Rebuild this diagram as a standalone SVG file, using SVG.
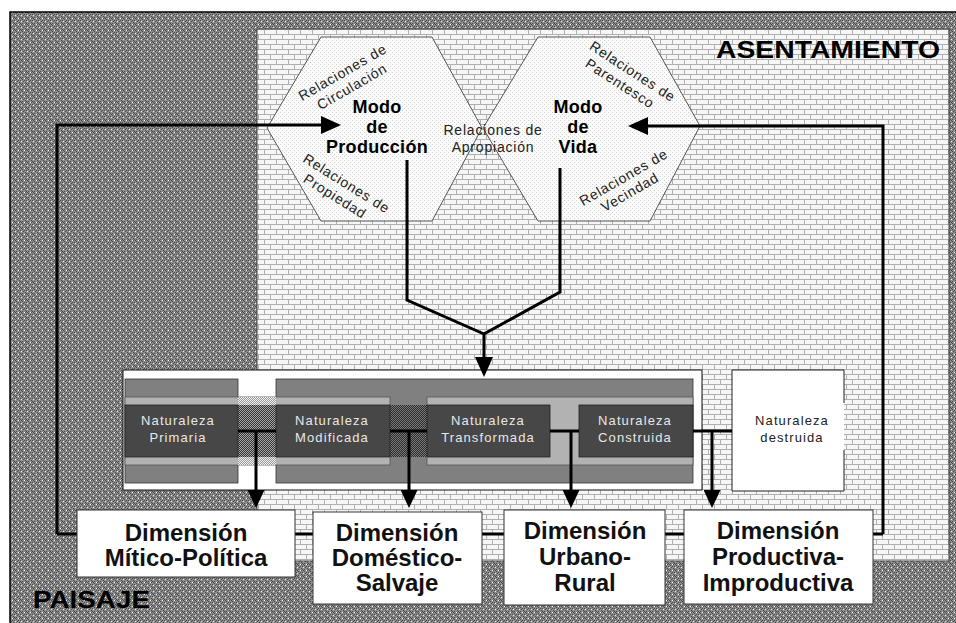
<svg xmlns="http://www.w3.org/2000/svg" width="956" height="623" viewBox="0 0 956 623">
<defs>
<style>
.rel{font-family:"Liberation Sans",Arial,sans-serif;font-size:14px;letter-spacing:0.8px;fill:#222;text-anchor:middle}
.modo{font-family:"Liberation Sans",Arial,sans-serif;font-size:18px;font-weight:bold;letter-spacing:0.3px;fill:#000;text-anchor:middle}
.nat{font-family:"Liberation Sans",Arial,sans-serif;font-size:13px;letter-spacing:1.1px;fill:#e8e8e8;text-anchor:middle}
.natd{font-family:"Liberation Sans",Arial,sans-serif;font-size:13px;letter-spacing:1.1px;fill:#222;text-anchor:middle}
.dim{font-family:"Liberation Sans",Arial,sans-serif;font-size:24px;font-weight:bold;fill:#111;text-anchor:middle}
.big{font-family:"Liberation Sans",Arial,sans-serif;font-size:23px;font-weight:bold;fill:#000}
.box{fill:#fff;stroke:#333;stroke-width:1}
.dk{fill:#474747;stroke:#222;stroke-width:0.8}
.gr{fill:#808080;stroke:#333;stroke-width:0.8}
.band{fill:#b2b2b2;stroke:#555;stroke-width:0.8}
.ln{fill:none;stroke:#000;stroke-width:3;stroke-linejoin:miter}
</style>
<pattern id="pais" width="6" height="6" patternUnits="userSpaceOnUse">
<rect width="6" height="6" fill="#8c8c8c"/>
<path d="M1 0h1v1h-1zM4 1h1v1h-1zM2 2h1v1h-1zM5 3h1v1h-1zM1 4h1v1h-1zM4 5h1v1h-1zM3 0h1v1h-1zM0 2h1v1h-1zM2 5h1v1h-1z" fill="#4a4a4a"/>
<rect x="0" y="0" width="1" height="1" fill="#fff"/>
<rect x="3" y="3" width="1" height="1" fill="#eee"/>
</pattern>
<pattern id="brick" width="12" height="10" patternUnits="userSpaceOnUse">
<rect width="12" height="10" fill="#f6f6f6"/>
<path d="M0 4.5H12M0 9.5H12M0.5 0V4M6.5 5V9" stroke="#b0b0b0" stroke-width="1"/>
</pattern>
<pattern id="hexp" width="4" height="4" patternUnits="userSpaceOnUse">
<rect width="4" height="4" fill="#fbfbfb"/>
<rect width="1" height="1" fill="#d2d2d2"/>
<rect x="2" y="2" width="1" height="1" fill="#d2d2d2"/>
</pattern>
<pattern id="lchk" width="2" height="2" patternUnits="userSpaceOnUse">
<rect width="2" height="2" fill="#f0f0f0"/>
<rect x="1" y="0" width="1" height="1" fill="#9a9a9a"/>
<rect x="0" y="1" width="1" height="1" fill="#9a9a9a"/>
</pattern>
<pattern id="dchk" width="2" height="2" patternUnits="userSpaceOnUse">
<rect width="2" height="2" fill="#a8a8a8"/>
<rect x="1" y="0" width="1" height="1" fill="#333"/>
<rect x="0" y="1" width="1" height="1" fill="#333"/>
</pattern>
<pattern id="dchk2" width="2" height="2" patternUnits="userSpaceOnUse">
<rect width="2" height="2" fill="#777"/>
<rect x="1" y="0" width="1" height="1" fill="#2e2e2e"/>
<rect x="0" y="1" width="1" height="1" fill="#2e2e2e"/>
</pattern>
<marker id="ah" markerUnits="userSpaceOnUse" markerWidth="20" markerHeight="18" refX="16" refY="9" orient="auto">
<path d="M0,0 L20,9 L0,18 z" fill="#000"/>
</marker>
<marker id="ahs" markerUnits="userSpaceOnUse" markerWidth="18" markerHeight="17" refX="14" refY="8.5" orient="auto">
<path d="M0,0 L18,8.5 L0,17 z" fill="#000"/>
</marker>
</defs>

<rect width="956" height="623" fill="#fff"/>

<g id="paisaje">
<rect x="10" y="12" width="946" height="611" fill="url(#pais)"/>
<path d="M10,623 V12 H956" fill="none" stroke="#000" stroke-width="1.5"/>
<text class="big" x="33" y="608" textLength="117" lengthAdjust="spacingAndGlyphs" font-size="22">PAISAJE</text>
</g>

<g id="asentamiento">
<rect x="257" y="29" width="692" height="532" fill="url(#brick)" stroke="#444" stroke-width="1"/>
<text class="big" x="716" y="58" textLength="224" lengthAdjust="spacingAndGlyphs">ASENTAMIENTO</text>
</g>

<g id="modo-produccion">
<polygon points="321,37 432,37 482,128 432,221 321,221 267,128" fill="url(#hexp)" stroke="#555" stroke-width="1"/>
<g transform="translate(345,76.5) rotate(-30)">
<text class="rel" x="0" y="0">Relaciones de</text>
<text class="rel" x="1" y="17">Circulación</text>
</g>
<g transform="translate(344,187.5) rotate(32)">
<text class="rel" x="0" y="0">Relaciones de</text>
<text class="rel" x="-3" y="17">Propiedad</text>
</g>
<text class="modo" x="377" y="113">Modo</text>
<text class="modo" x="377" y="133">de</text>
<text class="modo" x="377" y="153">Producción</text>
</g>

<g id="modo-vida">
<polygon points="538,37 650,37 700,126 650,221 538,221 483,128" fill="url(#hexp)" stroke="#555" stroke-width="1"/>
<g transform="translate(630,75.5) rotate(33)">
<text class="rel" x="0" y="0">Relaciones de</text>
<text class="rel" x="-4" y="17">Parentesco</text>
</g>
<g transform="translate(626,181.5) rotate(-30)">
<text class="rel" x="0" y="0">Relaciones de</text>
<text class="rel" x="-2" y="16">Vecindad</text>
</g>
<text class="modo" x="578" y="113">Modo</text>
<text class="modo" x="578" y="133">de</text>
<text class="modo" x="578" y="153">Vida</text>
</g>

<g id="relaciones-apropiacion">
<text class="rel" x="493" y="135">Relaciones de</text>
<text class="rel" x="493" y="152">Apropiación</text>
</g>

<g id="naturaleza">
<rect x="123" y="370" width="579" height="120" fill="#fff" stroke="#111" stroke-width="1"/>
<rect class="gr" x="125" y="379" width="113" height="104"/>
<rect class="gr" x="276" y="379" width="417" height="104"/>
<rect class="band" x="125" y="397" width="265" height="68"/>
<rect x="238" y="397" width="38" height="68" fill="url(#lchk)"/>
<rect class="band" x="427" y="397" width="266" height="68"/>
<rect x="238" y="405" width="38" height="52" fill="url(#dchk)"/>
<rect x="390" y="405" width="37" height="52" fill="url(#dchk2)"/>
</g>

<g id="naturaleza-primaria">
<rect class="dk" x="125" y="405" width="113" height="52"/>
<text class="nat" x="178" y="425">Naturaleza</text>
<text class="nat" x="178" y="442">Primaria</text>
</g>
<g id="naturaleza-modificada">
<rect class="dk" x="276" y="405" width="114" height="52"/>
<text class="nat" x="332" y="425">Naturaleza</text>
<text class="nat" x="332" y="442">Modificada</text>
</g>
<g id="naturaleza-transformada">
<rect class="dk" x="427" y="405" width="123" height="52"/>
<text class="nat" x="488" y="425">Naturaleza</text>
<text class="nat" x="488" y="442">Transformada</text>
</g>
<g id="naturaleza-construida">
<rect class="dk" x="579" y="405" width="114" height="52"/>
<text class="nat" x="635" y="425">Naturaleza</text>
<text class="nat" x="635" y="442">Construida</text>
</g>
<g id="naturaleza-destruida">
<rect x="732" y="370" width="112" height="121" fill="#fff"/>
<path d="M844,403 V370 H732 V491 H844 V450" fill="none" stroke="#222" stroke-width="1"/>
<text class="natd" x="792" y="425">Naturaleza</text>
<text class="natd" x="792" y="442">destruida</text>
</g>

<g id="connectors">
<path class="ln" d="M57,534 H883"/>
<path class="ln" d="M57,534 V125 H337" marker-end="url(#ah)"/>
<path class="ln" d="M883,534 V126 H632" marker-end="url(#ah)"/>
<path class="ln" d="M407,160 V300 L484,334 M560,168 V292 L484,334 V373" marker-end="url(#ah)"/>
<path class="ln" d="M238,431 H276 M256,431 V504" marker-end="url(#ahs)"/>
<path class="ln" d="M390,431 H427 M409,431 V504" marker-end="url(#ahs)"/>
<path class="ln" d="M550,431 H579 M571,431 V504" marker-end="url(#ahs)"/>
<path class="ln" d="M693,431 H732 M712,431 V504" marker-end="url(#ahs)"/>
</g>

<g id="dim-mitico">
<rect class="box" x="77" y="510" width="218" height="67"/>
<text class="dim" x="186" y="541">Dimensión</text>
<text class="dim" x="186" y="566">Mítico-Política</text>
</g>
<g id="dim-domestico">
<rect class="box" x="313" y="512" width="169" height="92"/>
<text class="dim" x="397" y="541">Dimensión</text>
<text class="dim" x="397" y="566">Doméstico-</text>
<text class="dim" x="397" y="591">Salvaje</text>
</g>
<g id="dim-urbano">
<rect class="box" x="504" y="510" width="161" height="95"/>
<text class="dim" x="585" y="539">Dimensión</text>
<text class="dim" x="585" y="565">Urbano-</text>
<text class="dim" x="585" y="591">Rural</text>
</g>
<g id="dim-productiva">
<rect class="box" x="684" y="510" width="189" height="94"/>
<text class="dim" x="778" y="539">Dimensión</text>
<text class="dim" x="778" y="565">Productiva-</text>
<text class="dim" x="778" y="591">Improductiva</text>
</g>
</svg>
